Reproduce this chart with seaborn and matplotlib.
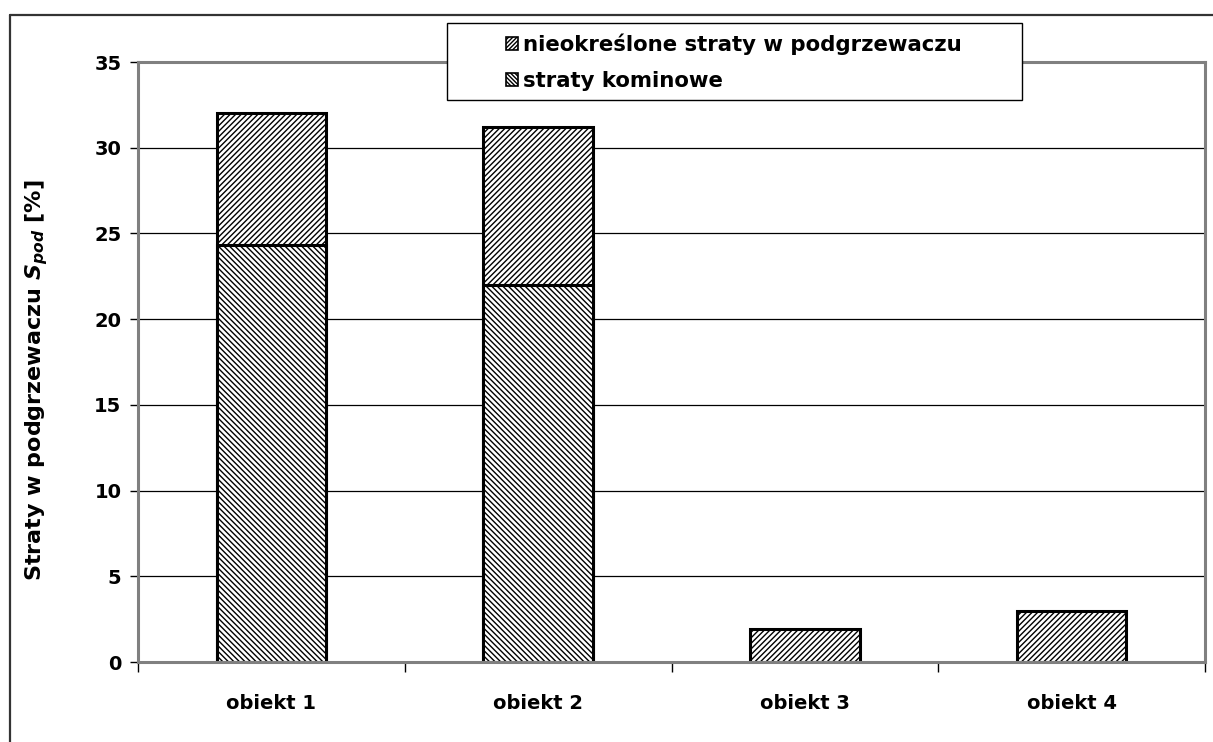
import matplotlib
matplotlib.use("Agg")
import matplotlib.pyplot as plt
import matplotlib.patches as mpatches
import matplotlib.lines as mlines
import numpy as np
import pandas as pd
import seaborn as sns

sns.set_theme(style="white")
plt.rcParams["font.family"] = ["DejaVu Sans"]
plt.rcParams["font.weight"] = "bold"
plt.rcParams["mathtext.fontset"] = "dejavusans"
plt.rcParams["hatch.linewidth"] = 1.0
plt.rcParams["text.color"] = "black"
plt.rcParams["axes.labelcolor"] = "black"
plt.rcParams["xtick.color"] = "black"
plt.rcParams["ytick.color"] = "black"

# values
obiekty = ["obiekt 1", "obiekt 2", "obiekt 3", "obiekt 4"]
straty_kominowe = [24.3, 22.0, 0.0, 0.0]
straty_nieokreslone = [7.7, 9.2, 1.9, 3.0]

df = pd.DataFrame({
    "obiekt": obiekty,
    "kominowe": straty_kominowe,
    "nieokreslone": straty_nieokreslone,
})
df["razem"] = df["kominowe"] + df["nieokreslone"]

W, H = 1213, 742
fig = plt.figure(figsize=(W / 100, H / 100), dpi=100)
ax = fig.add_axes([138 / W, 1 - 662 / H, 1067 / W, 600 / H])

# total first (upper hatch), then chimney losses drawn over the lower part
sns.barplot(data=df, x="obiekt", y="razem", ax=ax, color="white", width=0.41,
            edgecolor="black", linewidth=2.2, hatch="//////", zorder=3)
sns.barplot(data=df[df["kominowe"] > 0], x="obiekt", y="kominowe", ax=ax,
            order=obiekty, color="white", width=0.41,
            edgecolor="black", linewidth=2.2, hatch="\\\\\\\\\\\\", zorder=4)

ax.set_ylim(0, 35)
ax.set_xlim(-0.5, 3.5)
ax.set_yticks(np.arange(0, 36, 5))
ax.yaxis.grid(True, color="black", linewidth=0.9, zorder=0)
ax.set_axisbelow(True)
for s in ax.spines.values():
    s.set_color("#808080")
    s.set_linewidth(2.2)
    s.set_zorder(5)

ax.tick_params(axis="y", left=True, length=6, width=1, color="black",
               labelsize=14, pad=6)
ax.set_xticks(range(4))
ax.set_xticklabels(obiekty, fontsize=14, fontweight="bold")
ax.tick_params(axis="x", bottom=False, pad=17)
ax.set_xticks([-0.5, 0.5, 1.5, 2.5, 3.5], minor=True)
ax.tick_params(axis="x", which="minor", bottom=True, length=7, width=1, color="black")
for lab in ax.get_yticklabels():
    lab.set_fontweight("bold")

ax.set_xlabel("")
ax.set_ylabel(r"Straty w podgrzewaczu $\mathbfit{S}_{\mathbfit{pod}}$ [%]", fontsize=16,
              fontweight="bold")
ax.yaxis.set_label_coords(50 / W, 1 - 380 / H, transform=fig.transFigure)

# legend: entries without frame, Excel-like wide box drawn separately
handles = [
    mpatches.Patch(facecolor="white", edgecolor="black", hatch="////////", linewidth=1.2),
    mpatches.Patch(facecolor="white", edgecolor="black", hatch="\\\\\\\\\\\\\\\\", linewidth=1.2),
]
leg = fig.legend(handles, ["nieokreślone straty w podgrzewaczu", "straty kominowe"],
                 loc="upper left", bbox_to_anchor=(500 / W, 1 - 27 / H),
                 bbox_transform=fig.transFigure, prop={"size": 15.3, "weight": "bold"},
                 frameon=False, handlelength=0.55, handleheight=0.55,
                 handletextpad=0.25, borderpad=0.3, labelspacing=0.75,
                 borderaxespad=0)
leg.set_zorder(10)
fig.patches.append(mpatches.Rectangle((447 / W, 1 - 100 / H), 575 / W, 77 / H,
                                      transform=fig.transFigure, facecolor="white",
                                      edgecolor="black", linewidth=1.0, zorder=9))

# outer frame of the chart (left and top edges visible)
fig.lines.append(mlines.Line2D([10 / W, 10 / W], [0, 1 - 15 / H], transform=fig.transFigure,
                               color="#333333", linewidth=1.6))
fig.lines.append(mlines.Line2D([10 / W, 1], [1 - 15 / H, 1 - 15 / H], transform=fig.transFigure,
                               color="#333333", linewidth=1.6))

fig.savefig("out.png", dpi=100)
